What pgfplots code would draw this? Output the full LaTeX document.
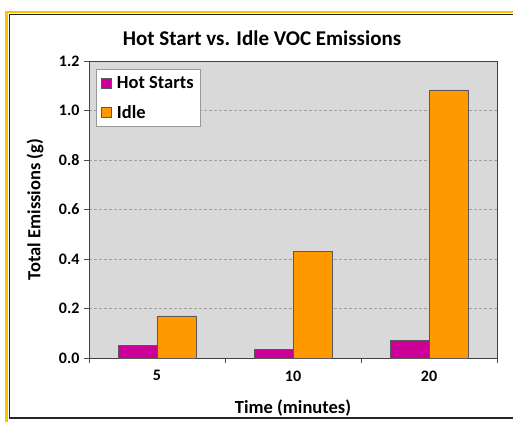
\documentclass[border=0pt]{standalone}
\usepackage{pgfplots}
\pgfplotsset{compat=1.18}
\usepackage{fontspec}
\setmainfont{Carlito}
\definecolor{hotpink}{HTML}{CC0099}
\definecolor{idleorange}{HTML}{FF9900}
\definecolor{plotgray}{HTML}{D9D9D9}
\definecolor{framegold}{HTML}{FFC000}
\begin{document}
\begin{tikzpicture}[x=1pt,y=1pt]
\useasboundingbox (0,0) rectangle (513,421);
\begin{scope}
  \clip (0,0) rectangle (513,421);
  \draw[framegold, line width=2.5pt] (6.5,-20) rectangle (540,409);
  \draw[black!85, line width=1.5pt] (9.5,3) rectangle (540,406.5);
\end{scope}
\node[font=\bfseries\fontsize{21}{24}\selectfont] at (262,383) {Hot Start vs. Idle VOC Emissions};
\begin{axis}[
  at={(89pt,63pt)}, anchor=south west,
  scale only axis, width=408pt, height=297pt,
  axis background/.style={fill=plotgray},
  axis line style={black!75, line width=0.8pt},
  ybar=0pt, bar width=39pt,
  xmin=-0.5, xmax=2.5, ymin=0, ymax=1.2,
  xtick={-0.5,0.5,1.5,2.5}, xticklabels={},
  extra x ticks={0,1,2}, extra x tick labels={5,10,20},
  extra x tick style={major tick length=0pt, grid=none},
  ytick={0,0.2,...,1.2},
  ytick pos=left, xtick pos=bottom,
  tick align=outside, major tick length=5pt,
  tick style={black!70, line width=0.6pt},
  ymajorgrids, grid style={densely dashed, gray!75, line width=0.6pt},
  yticklabel style={/pgf/number format/fixed, /pgf/number format/fixed zerofill,
    /pgf/number format/precision=1, /pgf/number format/assume math mode=true},
  ticklabel style={font=\bfseries\fontsize{16}{18}\selectfont},
  xticklabel style={yshift=-9pt},
  yticklabel style={xshift=-1pt},
  xlabel={Time (minutes)}, ylabel={Total Emissions (g)},
  label style={font=\bfseries\fontsize{18.5}{21}\selectfont},
  xlabel style={at={(rel axis cs:0.5,-0.168)}, anchor=center},
  ylabel style={at={(rel axis cs:-0.132,0.5)}, anchor=center, rotate=0},
  legend style={at={(rel axis cs:0.017,0.973)}, anchor=north west,
    draw=gray!80, fill=white, line width=0.8pt,
    font=\bfseries\fontsize{18.5}{21}\selectfont,
    row sep=11pt, column sep=3pt, inner xsep=5pt, inner ysep=5pt, cells={anchor=west}},
]
\addplot[fill=hotpink, draw=black!65, line width=0.6pt,
  legend image code/.code={\draw[fill=hotpink, draw=black!65, line width=0.6pt] (0pt,-5pt) rectangle (10pt,5pt);}]
  coordinates {(0,0.05) (1,0.036) (2,0.072)};
\addlegendentry{Hot Starts}
\addplot[fill=idleorange, draw=black!65, line width=0.6pt,
  legend image code/.code={\draw[fill=idleorange, draw=black!65, line width=0.6pt] (0pt,-5pt) rectangle (10pt,5pt);}]
  coordinates {(0,0.17) (1,0.43) (2,1.083)};
\addlegendentry{Idle}
\end{axis}
\end{tikzpicture}
\end{document}
